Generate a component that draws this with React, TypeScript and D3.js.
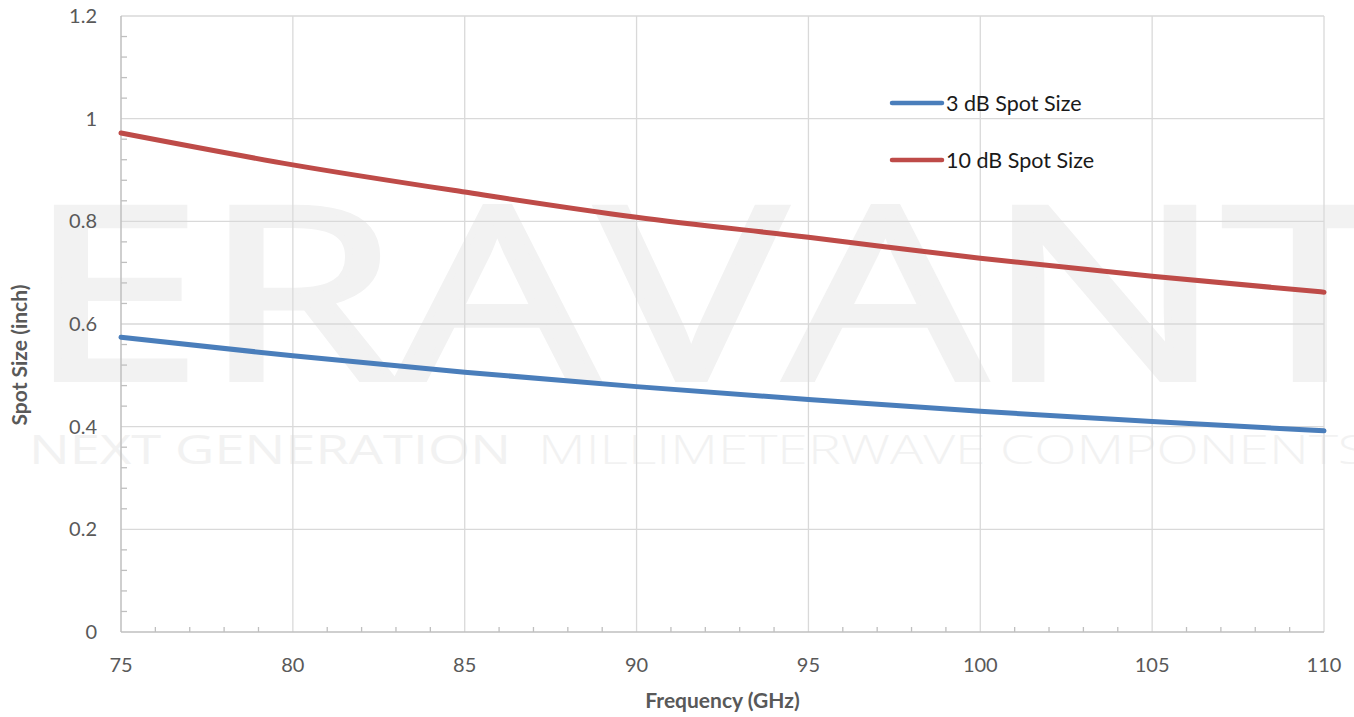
import { useEffect, useRef } from "react";
import * as d3 from "d3";

// Frequency points (GHz)
const frequencies = [75, 80, 85, 90, 95, 100, 105, 110];
// 3 dB spot size (inch)
const spot3dB = [0.574, 0.538, 0.506, 0.478, 0.453, 0.43, 0.41, 0.392];
// 10 dB spot size (inch)
const spot10dB = [0.972, 0.91, 0.857, 0.808, 0.769, 0.728, 0.693, 0.662];

const seriesNames = ["3 dB Spot Size", "10 dB Spot Size"];
const seriesColors = ["#4a7ebb", "#be4b48"];

const xTicks = [75, 80, 85, 90, 95, 100, 105, 110];
const yTicks = [0, 0.2, 0.4, 0.6, 0.8, 1, 1.2];
const yTickLabels = ["0", "0.2", "0.4", "0.6", "0.8", "1", "1.2"];

export default function App() {
  const svgRef = useRef<SVGSVGElement | null>(null);

  useEffect(() => {
    if (!svgRef.current) return;
    const root = d3.select(svgRef.current);
    root.selectAll("*").remove();

    const width = 1354;
    const height = 717;
    const margin = { top: 16, right: 30, bottom: 85, left: 121 };
    const innerW = width - margin.left - margin.right;
    const innerH = height - margin.top - margin.bottom;
    const font = "Lato, 'Open Sans', sans-serif";

    root.attr("width", width).attr("height", height);

    // Watermark (behind everything)
    const wm = root.append("g").attr("fill", "#f2f2f2");
    wm.append("text")
      .attr("x", 27)
      .attr("y", 379)
      .attr("font-family", "'Open Sans', sans-serif")
      .attr("font-weight", 400)
      .attr("font-size", 240)
      .attr("stroke", "#f2f2f2")
      .attr("stroke-width", 6)
      .attr("textLength", 1370)
      .attr("lengthAdjust", "spacingAndGlyphs")
      .text("ERAVANT");
    wm.append("text")
      .attr("x", 29)
      .attr("y", 464)
      .attr("font-family", "'Open Sans', sans-serif")
      .attr("font-weight", 500)
      .attr("font-size", 40)
      .attr("textLength", 482)
      .attr("lengthAdjust", "spacingAndGlyphs")
      .text("NEXT GENERATION");
    wm.append("text")
      .attr("x", 538)
      .attr("y", 464)
      .attr("font-family", "'Open Sans', sans-serif")
      .attr("font-weight", 300)
      .attr("font-size", 40)
      .attr("textLength", 830)
      .attr("lengthAdjust", "spacingAndGlyphs")
      .text("MILLIMETERWAVE COMPONENTS");

    const g = root
      .append("g")
      .attr("transform", `translate(${margin.left},${margin.top})`);

    const x = d3.scaleLinear().domain([75, 110]).range([0, innerW]);
    const y = d3.scaleLinear().domain([0, 1.2]).range([innerH, 0]);

    // Gridlines
    g.append("g")
      .selectAll("line")
      .data(yTicks.slice(1))
      .enter()
      .append("line")
      .attr("x1", 0)
      .attr("x2", innerW)
      .attr("y1", (d) => y(d))
      .attr("y2", (d) => y(d))
      .attr("stroke", "#d9d9d9")
      .attr("stroke-width", 1.3);
    g.append("g")
      .selectAll("line")
      .data(xTicks.slice(1))
      .enter()
      .append("line")
      .attr("x1", (d) => x(d))
      .attr("x2", (d) => x(d))
      .attr("y1", 0)
      .attr("y2", innerH)
      .attr("stroke", "#d9d9d9")
      .attr("stroke-width", 1.3);

    // Minor ticks (inside)
    const xMinor = d3.range(76, 110, 1).filter((d) => d % 5 !== 0);
    g.append("g")
      .selectAll("line")
      .data(xMinor)
      .enter()
      .append("line")
      .attr("x1", (d) => x(d))
      .attr("x2", (d) => x(d))
      .attr("y1", innerH)
      .attr("y2", innerH - 5)
      .attr("stroke", "#bfbfbf")
      .attr("stroke-width", 1.3);
    const yMinor = d3.range(1, 30).map((i) => i * 0.04).filter((_, i) => (i + 1) % 5 !== 0);
    g.append("g")
      .selectAll("line")
      .data(yMinor)
      .enter()
      .append("line")
      .attr("x1", 0)
      .attr("x2", 6)
      .attr("y1", (d) => y(d))
      .attr("y2", (d) => y(d))
      .attr("stroke", "#bfbfbf")
      .attr("stroke-width", 1.3);

    // Axis lines
    g.append("line")
      .attr("x1", 0)
      .attr("x2", innerW)
      .attr("y1", innerH)
      .attr("y2", innerH)
      .attr("stroke", "#bfbfbf")
      .attr("stroke-width", 1.5);
    g.append("line")
      .attr("x1", 0)
      .attr("x2", 0)
      .attr("y1", 0)
      .attr("y2", innerH)
      .attr("stroke", "#bfbfbf")
      .attr("stroke-width", 1.5);

    // Tick labels
    g.append("g")
      .selectAll("text")
      .data(xTicks)
      .enter()
      .append("text")
      .attr("x", (d) => x(d))
      .attr("y", innerH + 40)
      .attr("text-anchor", "middle")
      .attr("font-family", font)
      .attr("font-size", 20)
      .attr("fill", "#595959")
      .text((d) => String(d));
    g.append("g")
      .selectAll("text")
      .data(yTicks)
      .enter()
      .append("text")
      .attr("x", -24)
      .attr("y", (d) => y(d))
      .attr("dy", "0.35em")
      .attr("text-anchor", "end")
      .attr("font-family", font)
      .attr("font-size", 20)
      .attr("fill", "#595959")
      .text((_, i) => yTickLabels[i]);

    // Axis titles
    root
      .append("text")
      .attr("x", margin.left + innerW / 2)
      .attr("y", 708)
      .attr("text-anchor", "middle")
      .attr("font-family", font)
      .attr("font-weight", 700)
      .attr("font-size", 21)
      .attr("fill", "#595959")
      .text("Frequency (GHz)");
    root
      .append("text")
      .attr("transform", `translate(27,355) rotate(-90)`)
      .attr("text-anchor", "middle")
      .attr("font-family", font)
      .attr("font-weight", 700)
      .attr("font-size", 21)
      .attr("fill", "#595959")
      .text("Spot Size (inch)");

    // Series lines
    const line = d3
      .line<number>()
      .x((_, i) => x(frequencies[i]))
      .y((d) => y(d))
      .curve(d3.curveMonotoneX);

    [spot3dB, spot10dB].forEach((values, k) => {
      g.append("path")
        .datum(values)
        .attr("d", line)
        .attr("fill", "none")
        .attr("stroke", seriesColors[k])
        .attr("stroke-width", 5)
        .attr("stroke-linecap", "round");
    });

    // Legend
    const legend = root.append("g").attr("transform", "translate(892,103)");
    const items = legend
      .selectAll("g")
      .data(seriesNames)
      .enter()
      .append("g")
      .attr("transform", (_, i) => `translate(0,${i * 57})`);
    items
      .append("line")
      .attr("x1", 0)
      .attr("x2", 50)
      .attr("stroke", (_, i) => seriesColors[i])
      .attr("stroke-width", 4.5)
      .attr("stroke-linecap", "round");
    items
      .append("text")
      .attr("x", 54)
      .attr("dy", "0.35em")
      .attr("font-family", font)
      .attr("font-size", 21.5)
      .attr("fill", "#1a1a1a")
      .text((d) => d);
  }, []);

  return (
    <div style={{ position: "absolute", left: 0, top: 0 }}>
      <svg ref={svgRef}></svg>
    </div>
  );
}
